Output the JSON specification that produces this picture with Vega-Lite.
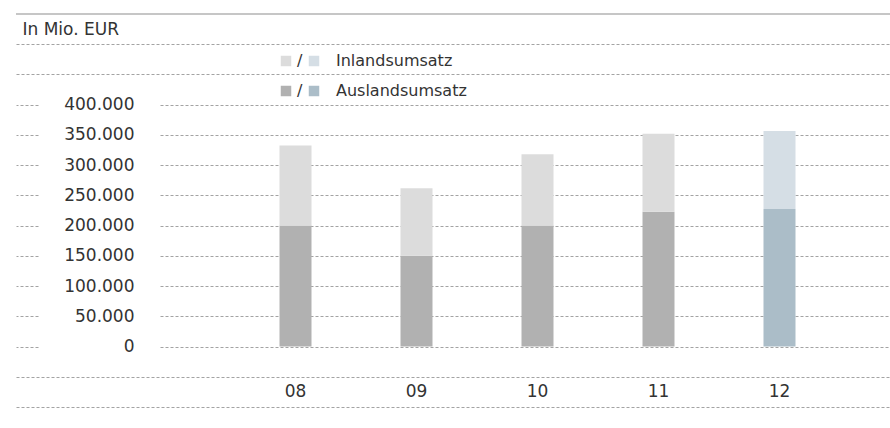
{
  "$schema": "https://vega.github.io/schema/vega-lite/v6.json",
  "width": 874,
  "height": 393,
  "autosize": {"type": "none"},
  "padding": {"left": 16, "top": 14, "right": 0, "bottom": 21},
  "background": "white",
  "config": {
    "view": {"stroke": null},
    "font": "DejaVu Sans",
    "axis": {"zindex": 0, "labelFont": "DejaVu Sans", "titleFont": "DejaVu Sans"}
  },
  "layer": [
    {
      "data": {"values": [{}]},
      "mark": {"type": "rule", "color": "#b3b3b3", "strokeWidth": 1.5},
      "encoding": {
        "y": {
          "datum": 550000,
          "type": "quantitative",
          "axis": {
            "orient": "left",
            "offset": -22,
            "values": [-100000, -50000, 0, 50000, 100000, 150000, 200000, 250000, 300000, 350000, 400000, 450000, 500000, 550000],
            "title": null,
            "labels": false,
            "domain": false,
            "ticks": true,
            "tickSize": 22,
            "tickDash": [3, 2],
            "tickColor": "#a3a3a3",
            "tickWidth": 1,
            "tickOpacity": {"condition": {"test": "datum.value >= 0 && datum.value <= 400000", "value": 1}, "value": 0},
            "grid": true,
            "gridDash": [3, 2],
            "gridColor": "#a3a3a3",
            "gridWidth": 1,
            "gridOpacity": {"condition": {"test": "datum.value < 0 || (datum.value > 400000 && datum.value < 550000)", "value": 1}, "value": 0},
            "zindex": 0
          }
        }
      }
    },
    {
      "data": {
        "values": [
          {"jahr": "08", "typ": "Ausland", "serie": "Ausland", "wert": 200000},
          {"jahr": "08", "typ": "Inland", "serie": "Inland", "wert": 132500},
          {"jahr": "09", "typ": "Ausland", "serie": "Ausland", "wert": 150000},
          {"jahr": "09", "typ": "Inland", "serie": "Inland", "wert": 112000},
          {"jahr": "10", "typ": "Ausland", "serie": "Ausland", "wert": 200000},
          {"jahr": "10", "typ": "Inland", "serie": "Inland", "wert": 118000},
          {"jahr": "11", "typ": "Ausland", "serie": "Ausland", "wert": 223000},
          {"jahr": "11", "typ": "Inland", "serie": "Inland", "wert": 129000},
          {"jahr": "12", "typ": "Ausland", "serie": "Ausland 12", "wert": 227500},
          {"jahr": "12", "typ": "Inland", "serie": "Inland 12", "wert": 129000}
        ]
      },
      "mark": {"type": "bar"},
      "encoding": {
        "x": {
          "field": "jahr",
          "type": "nominal",
          "scale": {"range": [263.5, 779.5], "paddingInner": 0.7355, "paddingOuter": 0, "align": 0.5},
          "axis": {
            "orient": "bottom",
            "offset": -31,
            "domain": false,
            "ticks": false,
            "tickSize": 0,
            "grid": false,
            "labelPadding": 15,
            "labelBaseline": "middle",
            "labelAngle": 0,
            "labelFontSize": 17,
            "labelColor": "#333333",
            "title": null,
            "zindex": 0
          }
        },
        "y": {
          "field": "wert",
          "type": "quantitative",
          "stack": "zero",
          "scale": {"domain": [-100000, 550000], "nice": false, "zero": false},
          "axis": {
            "orient": "right",
            "offset": -730,
            "values": [0, 50000, 100000, 150000, 200000, 250000, 300000, 350000, 400000],
            "domain": false,
            "grid": false,
            "ticks": true,
            "tickSize": 730,
            "tickDash": [3, 2],
            "tickColor": "#a3a3a3",
            "tickWidth": 1,
            "labels": true,
            "labelAlign": "right",
            "labelBaseline": "middle",
            "labelPadding": -756,
            "labelFontSize": 17,
            "labelColor": "#333333",
            "labelOverlap": false,
            "labelExpr": "replace(format(datum.value, ','), ',', '.')",
            "title": "In Mio. EUR",
            "titleAngle": 0,
            "titleAlign": "left",
            "titleBaseline": "middle",
            "titleX": -138,
            "titleY": 15,
            "titleFontSize": 17,
            "titleFontWeight": "normal",
            "titleColor": "#333333",
            "zindex": 0
          }
        },
        "color": {
          "field": "serie",
          "type": "nominal",
          "scale": {
            "domain": ["Inland", "Ausland", "Inland 12", "Ausland 12"],
            "range": ["#dcdcdc", "#b1b1b1", "#d5dee5", "#abbdc8"]
          },
          "legend": {
            "orient": "none",
            "legendX": 262,
            "legendY": 39,
            "columns": 2,
            "columnPadding": 3,
            "rowPadding": 14,
            "padding": 0,
            "title": null,
            "symbolType": "square",
            "symbolSize": 110,
            "symbolStrokeWidth": 0,
            "labelFontSize": 16,
            "labelColor": "#333333",
            "labelOffset": 3,
            "labelFont": "DejaVu Sans",
            "labelExpr": "datum.value == 'Inland 12' ? 'Inlandsumsatz' : datum.value == 'Ausland 12' ? 'Auslandsumsatz' : '/'",
            "encode": {
              "labels": {
                "update": {
                  "dx": {"signal": "datum.value == 'Inland 12' || datum.value == 'Ausland 12' ? 11 : 0"}
                }
              }
            }
          }
        },
        "order": {"field": "typ", "sort": "ascending"}
      }
    }
  ],
  "resolve": {"axis": {"y": "independent"}}
}
